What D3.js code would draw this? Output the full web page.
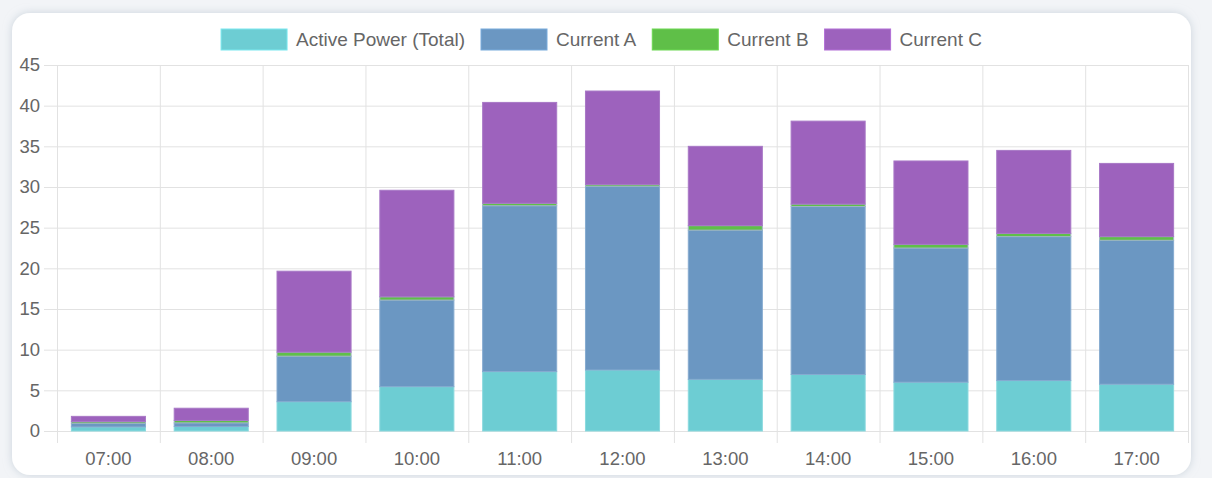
<!DOCTYPE html>
<meta charset="utf-8">
<style>
body { margin: 0; background: #f2f4f7; }
svg { display: block; font-family: "Liberation Sans", Arial, sans-serif; }
.axis .domain { display: none; }
.axis text { fill: #666; font-size: 18.5px; }
.legend text { fill: #666; font-size: 19px; }
</style>
<svg id="chart" width="1212" height="478"></svg>
<script src="https://d3js.org/d3.v7.min.js"></script>
<script>

// chart data
var hours = ["07:00", "08:00", "09:00", "10:00", "11:00", "12:00", "13:00", "14:00", "15:00", "16:00", "17:00"];
var activePower = [0.5, 0.55, 3.6, 5.45, 7.3, 7.5, 6.35, 6.95, 6.0, 6.2, 5.75];
var currentA = [0.45, 0.45, 5.6, 10.65, 20.4, 22.6, 18.35, 20.65, 16.5, 17.7, 17.7];
var currentB = [0.2, 0.3, 0.5, 0.4, 0.3, 0.2, 0.55, 0.3, 0.45, 0.4, 0.45];
var currentC = [0.65, 1.5, 9.95, 13.1, 12.4, 11.5, 9.75, 10.2, 10.25, 10.2, 9.0];
var yTicks = [0, 5, 10, 15, 20, 25, 30, 35, 40, 45];
var seriesNames = ["Active Power (Total)", "Current A", "Current B", "Current C"];
var seriesColors = ["#6dcdd3", "#6b97c2", "#5fbf48", "#9d62bd"];
var barBorders = ["#8ad9de", "#86abd0", "#9fb6c3", "#a878c6"];

var svg = d3.select("#chart");

var plotLeft = 57, plotRight = 1188, plotTop = 65, plotBottom = 431;

// card with soft shadow
var defs = svg.append("defs");
defs.append("filter").attr("id", "shadow")
    .attr("x", "-5%").attr("y", "-5%").attr("width", "110%").attr("height", "110%")
  .append("feDropShadow")
    .attr("dx", 0).attr("dy", 0).attr("stdDeviation", 4)
    .attr("flood-color", "#b9c5d0").attr("flood-opacity", 0.7);

svg.append("rect")
    .attr("x", 12).attr("y", 13)
    .attr("width", 1179).attr("height", 462)
    .attr("rx", 18)
    .attr("fill", "#fff")
    .attr("filter", "url(#shadow)");

var table = hours.map(function(h, i) {
  return {
    hour: h,
    "Active Power (Total)": activePower[i],
    "Current A": currentA[i],
    "Current B": currentB[i],
    "Current C": currentC[i]
  };
});

var stacked = d3.stack().keys(seriesNames)(table);

var y = d3.scaleLinear().domain([0, 45]).range([plotBottom, plotTop]);
var xCat = d3.scaleBand().domain(hours).range([plotLeft, plotRight]);
var xBar = d3.scaleBand().domain(hours).range([plotLeft, plotRight])
    .paddingInner(0.27).paddingOuter(0.135);
var color = d3.scaleOrdinal().domain(seriesNames).range(seriesColors);
var border = d3.scaleOrdinal().domain(seriesNames).range(barBorders);

// horizontal grid + y labels
svg.append("g")
    .attr("class", "axis")
    .attr("transform", "translate(44,0)")
    .call(d3.axisLeft(y).tickValues(yTicks).tickSize(-(plotRight - 44)).tickPadding(4))
    .call(function(g) { g.selectAll(".tick line").attr("stroke", "#e2e2e2"); });

// vertical grid at category edges
var edges = hours.map(function(h) { return xCat(h); }).concat([plotRight]);
svg.append("g")
  .selectAll("line")
  .data(edges)
  .enter().append("line")
    .attr("x1", function(d) { return d + 0.5; })
    .attr("x2", function(d) { return d + 0.5; })
    .attr("y1", plotTop)
    .attr("y2", plotBottom + 12)
    .attr("stroke", "#e2e2e2");

// bars
svg.append("g")
  .selectAll("g")
  .data(stacked)
  .enter().append("g")
    .attr("fill", function(d) { return color(d.key); })
    .attr("stroke", function(d) { return border(d.key); })
  .selectAll("rect")
  .data(function(d) { return d; })
  .enter().append("rect")
    .attr("x", function(d) { return xBar(d.data.hour) + 0.5; })
    .attr("y", function(d) { return y(d[1]); })
    .attr("width", xBar.bandwidth() - 1)
    .attr("height", function(d) { return y(d[0]) - y(d[1]); })
    .attr("stroke-width", 1);

// x labels
svg.append("g")
    .attr("class", "axis")
    .attr("transform", "translate(0," + plotBottom + ")")
    .call(d3.axisBottom(xCat).tickSize(0).tickPadding(21))
    .call(function(g) { g.selectAll(".tick line").remove(); });

// legend
var legend = svg.append("g").attr("class", "legend");
var items = legend.selectAll("g")
  .data(seriesNames)
  .enter().append("g");

items.append("rect")
    .attr("width", 66)
    .attr("height", 21)
    .attr("y", 29)
    .attr("fill", function(d) { return color(d); })
    .attr("stroke", function(d) { return d3.color(color(d)).brighter(0.35); });

items.append("text")
    .attr("x", 75)
    .attr("y", 45.5)
    .text(function(d) { return d; });

var widths = [];
items.select("text").each(function() { widths.push(this.getComputedTextLength()); });
var total = d3.sum(widths) + seriesNames.length * 75 + (seriesNames.length - 1) * 16;
var pos = 601.5 - total / 2;
items.attr("transform", function(d, i) {
  var t = "translate(" + pos + ",0)";
  pos += 75 + widths[i] + 16;
  return t;
});

</script>
